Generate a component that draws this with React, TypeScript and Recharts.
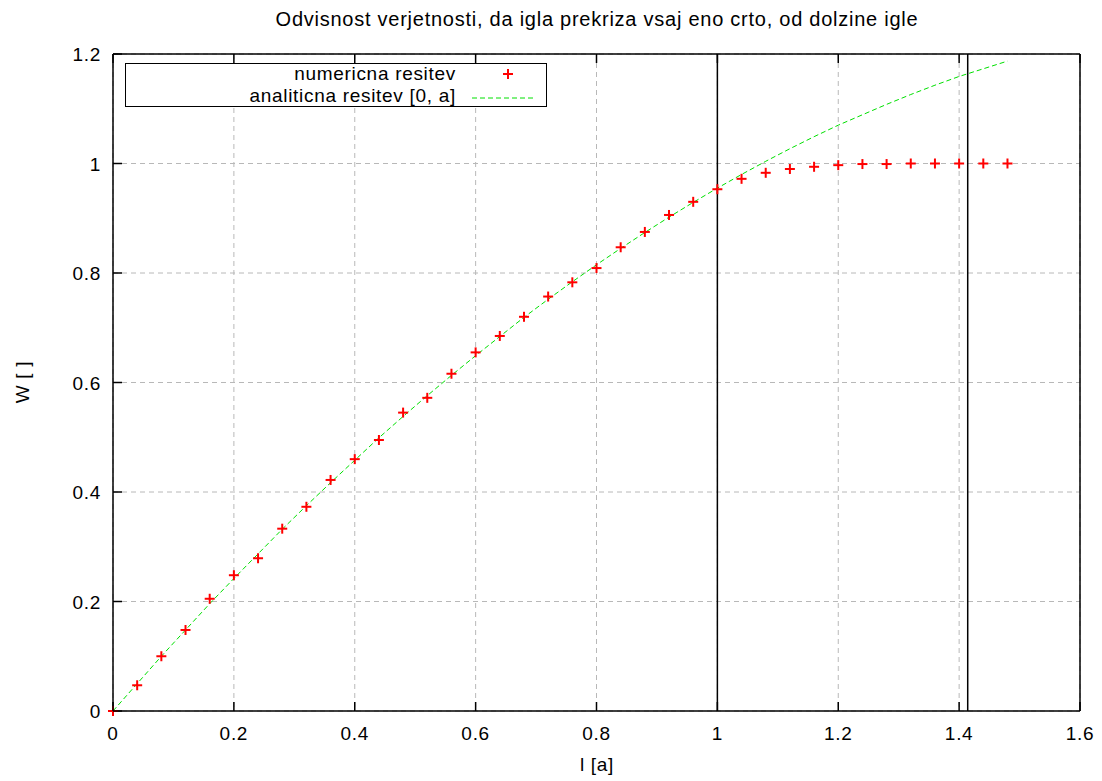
import React from 'react';
import { ComposedChart, Line, Scatter, XAxis, YAxis, CartesianGrid, ReferenceLine } from 'recharts';

const lengths = [0, 0.04, 0.08, 0.12, 0.16, 0.2, 0.24, 0.28, 0.32, 0.36, 0.4, 0.44, 0.48, 0.52, 0.56, 0.6, 0.64, 0.68, 0.72, 0.76, 0.8, 0.84, 0.88, 0.92, 0.96, 1.0, 1.04, 1.08, 1.12, 1.16, 1.2, 1.24, 1.28, 1.32, 1.36, 1.4, 1.44, 1.48];
const numerical = [0, 0.047, 0.1, 0.148, 0.205, 0.248, 0.279, 0.333, 0.373, 0.422, 0.46, 0.495, 0.545, 0.572, 0.616, 0.655, 0.685, 0.72, 0.757, 0.783, 0.809, 0.847, 0.875, 0.906, 0.93, 0.953, 0.972, 0.983, 0.99, 0.994, 0.997, 0.999, 0.999, 1.0, 1.0, 1.0, 1.0, 1.0];
const analytic = [0, 0.05, 0.1, 0.148, 0.196, 0.242, 0.287, 0.332, 0.375, 0.417, 0.458, 0.499, 0.538, 0.576, 0.613, 0.649, 0.684, 0.719, 0.752, 0.784, 0.815, 0.845, 0.874, 0.902, 0.929, 0.955, 0.98, 1.004, 1.027, 1.049, 1.07, 1.089, 1.108, 1.126, 1.143, 1.159, 1.173, 1.187];
const xTicks = [0, 0.2, 0.4, 0.6, 0.8, 1.0, 1.2, 1.4, 1.6];
const yTicks = [0, 0.2, 0.4, 0.6, 0.8, 1.0, 1.2];
const verticalLines = [1, 1.41421];

const title = 'Odvisnost verjetnosti, da igla prekriza vsaj eno crto, od dolzine igle';
const xLabel = 'l [a]';
const yLabel = 'W [ ]';
const seriesNames = ['numericna resitev', 'analiticna resitev [0, a]'];

const data = lengths.map((l, i) => ({ l, num: numerical[i], ana: analytic[i] }));

const FONT = '"Liberation Sans", Arial, sans-serif';
const FS = 19;
const LS = 0.7;
const TICK = 9;
const fmt = (v: number) => String(Math.round(v * 10) / 10);

const BottomTick = (p: any) => (
  <g>
    <line x1={p.x} y1={p.y} x2={p.x} y2={p.y - TICK} stroke="#000" strokeWidth={1.5} />
    <text x={p.x} y={p.y + 29} textAnchor="middle" fontFamily={FONT} fontSize={FS} letterSpacing={LS} fill="#000">{fmt(p.payload.value)}</text>
  </g>
);
const TopTick = (p: any) => (
  <line x1={p.x} y1={p.y} x2={p.x} y2={p.y + TICK} stroke="#000" strokeWidth={1.5} />
);
const LeftTick = (p: any) => (
  <g>
    <line x1={p.x} y1={p.y} x2={p.x + TICK} y2={p.y} stroke="#000" strokeWidth={1.5} />
    <text x={p.x - 12} y={p.y + 7} textAnchor="end" fontFamily={FONT} fontSize={FS} letterSpacing={LS} fill="#000">{fmt(p.payload.value)}</text>
  </g>
);
const RightTick = (p: any) => (
  <line x1={p.x} y1={p.y} x2={p.x - TICK} y2={p.y} stroke="#000" strokeWidth={1.5} />
);

const Plus = (p: any) => {
  const { cx, cy } = p;
  if (cx == null || cy == null) return null;
  return (
    <g>
      <line x1={cx - 5} y1={cy} x2={cx + 5} y2={cy} stroke="#ff0000" strokeWidth={2} />
      <line x1={cx} y1={cy - 5} x2={cx} y2={cy + 5} stroke="#ff0000" strokeWidth={2} />
    </g>
  );
};

const axisLine = { stroke: '#000', strokeWidth: 1.5 };

export default function App() {
  return (
    <div style={{ position: 'absolute', left: 0, top: 0, width: 1102, height: 781, background: '#fff', fontFamily: FONT, letterSpacing: LS, color: '#000' }}>
      <ComposedChart width={1102} height={781} data={data} margin={{ top: 44, right: 12, bottom: 40, left: 53 }}>
        <CartesianGrid stroke="#b8b8b8" strokeDasharray="5 4" strokeWidth={1} />
        <XAxis xAxisId={0} dataKey="l" type="number" domain={[0, 1.6]} ticks={xTicks} interval={0}
          height={30} tickSize={0} tickMargin={0} tickLine={false} axisLine={axisLine} tick={<BottomTick />} />
        <XAxis xAxisId="top" orientation="top" dataKey="l" type="number" domain={[0, 1.6]} ticks={xTicks} interval={0}
          height={10} tickSize={0} tickMargin={0} tickLine={false} axisLine={axisLine} tick={<TopTick />} />
        <YAxis yAxisId={0} type="number" domain={[0, 1.2]} ticks={yTicks} interval={0}
          width={60} tickSize={0} tickMargin={0} tickLine={false} axisLine={axisLine} tick={<LeftTick />} />
        <YAxis yAxisId="right" orientation="right" type="number" domain={[0, 1.2]} ticks={yTicks} interval={0}
          width={10} tickSize={0} tickMargin={0} tickLine={false} axisLine={axisLine} tick={<RightTick />} />
        {verticalLines.map((v) => (
          <ReferenceLine key={v} x={v} stroke="#000" strokeWidth={1.5} />
        ))}
        <Line dataKey="ana" type="linear" stroke="#00e000" strokeWidth={1} strokeDasharray="5 3" dot={false} isAnimationActive={false} />
        <Scatter dataKey="num" fill="#ff0000" shape={<Plus />} isAnimationActive={false} />
      </ComposedChart>

      <div style={{ position: 'absolute', left: 0, width: 1102, top: 7, textAlign: 'center', paddingLeft: 92, boxSizing: 'border-box', fontSize: 20, letterSpacing: 0.75, lineHeight: '24px' }}>{title}</div>
      <div style={{ position: 'absolute', left: 0, width: 1102, top: 753, textAlign: 'center', paddingLeft: 92, boxSizing: 'border-box', fontSize: FS, lineHeight: '24px' }}>{xLabel}</div>
      <div style={{ position: 'absolute', left: 23, top: 382, transform: 'translate(-50%, -50%) rotate(-90deg)', fontSize: FS, whiteSpace: 'nowrap' }}>{yLabel}</div>

      <div style={{ position: 'absolute', left: 125, top: 63, width: 422, height: 44, border: '1.5px solid #000', boxSizing: 'border-box', background: '#fff' }}>
        <div style={{ position: 'absolute', right: 90, top: -1, fontSize: FS, lineHeight: '22px', textAlign: 'right', whiteSpace: 'nowrap' }}>
          <div>{seriesNames[0]}</div>
          <div>{seriesNames[1]}</div>
        </div>
        <svg style={{ position: 'absolute', left: 340, top: 0 }} width={80} height={44}>
          <line x1={37} y1={10} x2={47} y2={10} stroke="#ff0000" strokeWidth={2} />
          <line x1={42} y1={5} x2={42} y2={15} stroke="#ff0000" strokeWidth={2} />
          <line x1={6} y1={34} x2={68} y2={34} stroke="#00e000" strokeWidth={1} strokeDasharray="5 3" />
        </svg>
      </div>
    </div>
  );
}
